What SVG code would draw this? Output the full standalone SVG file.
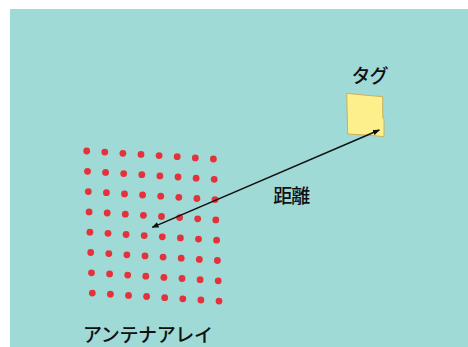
<svg xmlns="http://www.w3.org/2000/svg" width="468" height="347" viewBox="0 0 468 347">
<defs>
<style>
.lbl{font-family:"Noto Sans CJK JP","Noto Sans",sans-serif;font-size:19px;font-weight:500;fill:#111;}
.dot{fill:#e5323a;}
</style>
<marker id="ah" viewBox="0 0 10 10" refX="9" refY="5" markerWidth="7" markerHeight="7" orient="auto-start-reverse" markerUnits="userSpaceOnUse">
<path d="M0,1 L10,5 L0,9 Z" fill="#111"/>
</marker>
</defs>
<rect x="0" y="0" width="468" height="347" fill="#ffffff"/>
<rect x="10" y="9" width="458" height="338" fill="#9fdad6"/>
<g id="array">
<g id="dots">
<circle class="dot" cx="86.7" cy="151" r="3.4"/><circle class="dot" cx="104.8" cy="152.1" r="3.4"/><circle class="dot" cx="122.9" cy="153.3" r="3.4"/><circle class="dot" cx="141" cy="154.4" r="3.4"/><circle class="dot" cx="159.1" cy="155.6" r="3.4"/><circle class="dot" cx="177.2" cy="156.7" r="3.4"/><circle class="dot" cx="195.3" cy="157.9" r="3.4"/><circle class="dot" cx="213.4" cy="159" r="3.4"/>
<circle class="dot" cx="87.5" cy="171.3" r="3.4"/><circle class="dot" cx="105.6" cy="172.4" r="3.4"/><circle class="dot" cx="123.7" cy="173.6" r="3.4"/><circle class="dot" cx="141.8" cy="174.7" r="3.4"/><circle class="dot" cx="159.9" cy="175.9" r="3.4"/><circle class="dot" cx="178" cy="177" r="3.4"/><circle class="dot" cx="196.1" cy="178.2" r="3.4"/><circle class="dot" cx="214.2" cy="179.3" r="3.4"/>
<circle class="dot" cx="88.3" cy="191.6" r="3.4"/><circle class="dot" cx="106.4" cy="192.7" r="3.4"/><circle class="dot" cx="124.5" cy="193.9" r="3.4"/><circle class="dot" cx="142.6" cy="195" r="3.4"/><circle class="dot" cx="160.7" cy="196.2" r="3.4"/><circle class="dot" cx="178.8" cy="197.3" r="3.4"/><circle class="dot" cx="196.9" cy="198.5" r="3.4"/><circle class="dot" cx="215" cy="199.6" r="3.4"/>
<circle class="dot" cx="89.1" cy="211.9" r="3.4"/><circle class="dot" cx="107.2" cy="213" r="3.4"/><circle class="dot" cx="125.3" cy="214.2" r="3.4"/><circle class="dot" cx="143.4" cy="215.3" r="3.4"/><circle class="dot" cx="161.5" cy="216.5" r="3.4"/><circle class="dot" cx="179.6" cy="217.6" r="3.4"/><circle class="dot" cx="197.7" cy="218.8" r="3.4"/><circle class="dot" cx="215.8" cy="219.9" r="3.4"/>
<circle class="dot" cx="89.9" cy="232.2" r="3.4"/><circle class="dot" cx="108" cy="233.3" r="3.4"/><circle class="dot" cx="126.1" cy="234.5" r="3.4"/><circle class="dot" cx="144.2" cy="235.6" r="3.4"/><circle class="dot" cx="162.3" cy="236.8" r="3.4"/><circle class="dot" cx="180.4" cy="237.9" r="3.4"/><circle class="dot" cx="198.5" cy="239.1" r="3.4"/><circle class="dot" cx="216.6" cy="240.2" r="3.4"/>
<circle class="dot" cx="90.7" cy="252.5" r="3.4"/><circle class="dot" cx="108.8" cy="253.6" r="3.4"/><circle class="dot" cx="126.9" cy="254.8" r="3.4"/><circle class="dot" cx="145" cy="255.9" r="3.4"/><circle class="dot" cx="163.1" cy="257.1" r="3.4"/><circle class="dot" cx="181.2" cy="258.2" r="3.4"/><circle class="dot" cx="199.3" cy="259.4" r="3.4"/><circle class="dot" cx="217.4" cy="260.5" r="3.4"/>
<circle class="dot" cx="91.5" cy="272.8" r="3.4"/><circle class="dot" cx="109.6" cy="273.9" r="3.4"/><circle class="dot" cx="127.7" cy="275.1" r="3.4"/><circle class="dot" cx="145.8" cy="276.2" r="3.4"/><circle class="dot" cx="163.9" cy="277.4" r="3.4"/><circle class="dot" cx="182" cy="278.5" r="3.4"/><circle class="dot" cx="200.1" cy="279.7" r="3.4"/><circle class="dot" cx="218.2" cy="280.8" r="3.4"/>
<circle class="dot" cx="92.3" cy="293.1" r="3.4"/><circle class="dot" cx="110.4" cy="294.2" r="3.4"/><circle class="dot" cx="128.5" cy="295.4" r="3.4"/><circle class="dot" cx="146.6" cy="296.5" r="3.4"/><circle class="dot" cx="164.7" cy="297.7" r="3.4"/><circle class="dot" cx="182.8" cy="298.8" r="3.4"/><circle class="dot" cx="200.9" cy="300" r="3.4"/><circle class="dot" cx="219" cy="301.1" r="3.4"/>
</g>
<text class="lbl" x="83" y="342" textLength="130" lengthAdjust="spacing">アンテナアレイ</text>
</g>
<g id="tag">
<path d="M346.7,93.3 L356,94.3 L382.7,96.7 L382.8,118 L384,119 L384,136.7 L370,135.3 L347.7,134 Z" fill="#fdf08c" stroke="#c8b25c" stroke-width="1"/>
<text class="lbl" x="351.5" y="83" textLength="37" lengthAdjust="spacing">タグ</text>
</g>
<g id="connectors">
<line x1="379.3" y1="130" x2="152.3" y2="227.3" stroke="#111" stroke-width="1.4" marker-start="url(#ah)" marker-end="url(#ah)"/>
<text class="lbl" x="273.3" y="203" textLength="37" lengthAdjust="spacing">距離</text>
</g>
</svg>
